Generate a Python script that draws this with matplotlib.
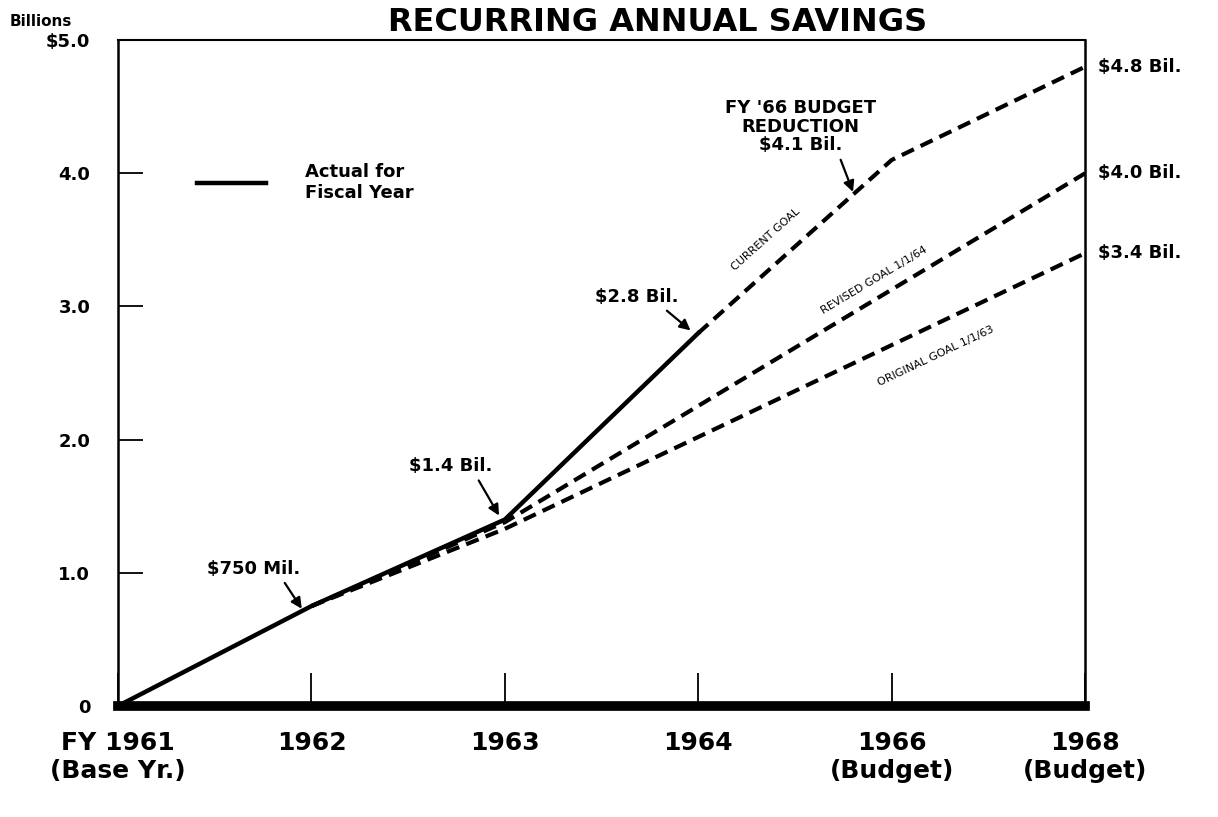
import numpy as np
import matplotlib
matplotlib.use('Agg')
import matplotlib.pyplot as plt

# categories along the bottom
years = ['FY 1961\n(Base Yr.)', '1962', '1963', '1964', '1966\n(Budget)', '1968\n(Budget)']

# recurring annual savings, billions of dollars
actual_pos = [0, 1, 2, 3]
actual = [0.0, 0.75, 1.4, 2.8]
current_pos = [3, 4, 5]
current_goal = [2.8, 4.1, 4.8]
revised_pos = [1, 2, 5]
revised_goal = [0.75, 1.38, 4.0]
original_pos = [1, 2, 5]
original_goal = [0.75, 1.33, 3.4]

yticks = [0, 1, 2, 3, 4, 5]
ylabels = ['0', '1.0', '2.0', '3.0', '4.0', '$5.0']
end_labels = ['$4.8 Bil.', '$4.0 Bil.', '$3.4 Bil.']

plt.rcParams['font.family'] = ['DejaVu Sans']
plt.rcParams['font.weight'] = 'bold'

fig = plt.figure(figsize=(12.18, 8.17), dpi=100)
ax = fig.add_axes([0.0969, 0.1359, 0.794, 0.815])

dash = (0, (3.2, 1.8))
ax.plot(actual_pos, actual, color='k', lw=3.2, label='Actual for\nFiscal Year')
ax.plot(current_pos, current_goal, color='k', lw=3, linestyle=dash)
ax.plot(revised_pos, revised_goal, color='k', lw=3, linestyle=dash)
ax.plot(original_pos, original_goal, color='k', lw=3, linestyle=dash)

ax.set_xlim(0, 5)
ax.set_ylim(0, 5)
ax.set_xticks(range(len(years)))
ax.set_xticklabels(years, fontsize=18, fontweight='bold')
ax.set_yticks(yticks)
ax.set_yticklabels(ylabels, fontsize=13, fontweight='bold')
ax.tick_params(axis='x', direction='in', length=24, width=1.3, pad=18)
ax.tick_params(axis='y', direction='in', length=18, width=1.3, pad=20)

for side, w in [('left', 1.8), ('top', 1.5), ('right', 1.8), ('bottom', 7)]:
    ax.spines[side].set_linewidth(w)

fig.text(0.008, 1 - 22 / 817, 'Billions', fontsize=11, fontweight='bold', va='center')
fig.text(0.54, 1 - 31 / 817, 'RECURRING ANNUAL SAVINGS', fontsize=23,
         fontweight='bold', ha='center', va='baseline')

ax.legend(loc='upper left', bbox_to_anchor=(0.065, 0.84), frameon=False,
          fontsize=13, handlelength=3.8, handletextpad=2.2)

arrow = dict(arrowstyle='-|>', color='k', lw=1.6, mutation_scale=16, shrinkA=2, shrinkB=0)
ax.annotate('$750 Mil.', xy=(0.95, 0.73), xytext=(0.70, 1.03), ha='center', va='center',
            fontsize=13, fontweight='bold', arrowprops=dict(arrow, relpos=(0.8, 0.0)))
ax.annotate('$1.4 Bil.', xy=(1.97, 1.43), xytext=(1.72, 1.8), ha='center', va='center',
            fontsize=13, fontweight='bold', arrowprops=dict(arrow, relpos=(0.8, 0.0)))
ax.annotate('$2.8 Bil.', xy=(2.96, 2.82), xytext=(2.68, 3.07), ha='center', va='center',
            fontsize=13, fontweight='bold', arrowprops=dict(arrow, relpos=(0.8, 0.0)))
ax.annotate("FY '66 BUDGET\nREDUCTION\n$4.1 Bil.", xy=(3.8, 3.86), xytext=(3.53, 4.35),
            ha='center', va='center', fontsize=13, fontweight='bold', linespacing=1.05,
            arrowprops=dict(arrow, relpos=(0.75, 0.0)))

for v, lab in zip([current_goal[-1], revised_goal[-1], original_goal[-1]], end_labels):
    ax.annotate(lab, xy=(5, v), xytext=(9, 0), textcoords='offset points', va='center',
                ha='left', fontsize=13, fontweight='bold', annotation_clip=False)


def seg_angle(x, y, i):
    p0 = ax.transData.transform((x[i], y[i]))
    p1 = ax.transData.transform((x[i + 1], y[i + 1]))
    return np.degrees(np.arctan2(p1[1] - p0[1], p1[0] - p0[0]))


goal_style = dict(fontsize=8, fontweight='normal', ha='center', va='center',
                  rotation_mode='anchor')
ax.text(3.35, 3.5, 'CURRENT GOAL', rotation=seg_angle(current_pos, current_goal, 0), **goal_style)
ax.text(3.91, 3.2, 'REVISED GOAL 1/1/64', rotation=seg_angle(revised_pos, revised_goal, 1), **goal_style)
ax.text(4.23, 2.63, 'ORIGINAL GOAL 1/1/63', rotation=seg_angle(original_pos, original_goal, 1), **goal_style)

fig.savefig('out.png', dpi=100)
